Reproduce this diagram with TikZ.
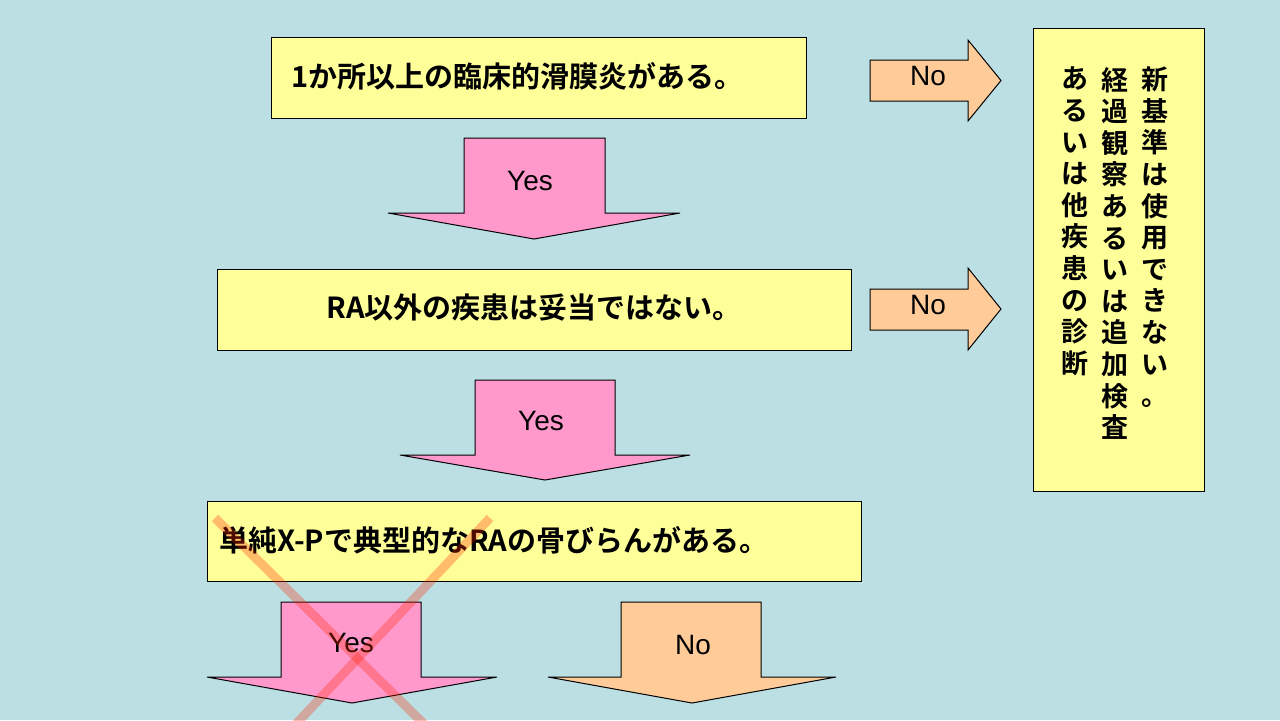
\documentclass[tikz,border=0pt]{standalone}
\usepackage{fontspec}
\setmainfont{Liberation Sans}
\newfontfamily\jp{Noto Sans CJK JP}[BoldFont={Noto Sans CJK JP Bold}]
\definecolor{bgblue}{RGB}{188,223,228}
\definecolor{boxyellow}{RGB}{255,255,153}
\definecolor{arrpink}{RGB}{255,153,204}
\definecolor{arrorange}{RGB}{255,204,153}
\tikzset{
  cond/.style={draw=black, fill=boxyellow, line width=0.5pt},
  condtext/.style={font=\jp\bfseries\fontsize{14.5}{16}\selectfont, anchor=west},
  lbl/.style={font=\fontsize{14}{16}\selectfont},
}
% down arrow: shaft left x, shaft right x, top y, shoulder y, head left x, head right x, tip y
\newcommand{\downarr}[8]{%
  \draw[fill=#8, line width=0.5pt] (#1,#3) -- (#2,#3) -- (#2,#4) -- (#6,#4)
    -- ({(#5+#6)/2},#7) -- (#5,#4) -- (#1,#4) -- cycle;}
% right arrow: shaft left x, head x, tip x, shaft top, shaft bottom, head top, head bottom
\newcommand{\rightarr}[7]{%
  \draw[fill=arrorange, line width=0.5pt] (#1,#4) -- (#2,#4) -- (#2,#6)
    -- (#3,{(#6+#7)/2}) -- (#2,#7) -- (#2,#5) -- (#1,#5) -- cycle;}
\begin{document}
\begin{tikzpicture}[x=0.5pt, y=-0.5pt]
	\fill[bgblue] (0,0) rectangle (1280,720);
	\useasboundingbox (0,0) rectangle (1280,720);
	
	% conditions
	\draw[cond] (271,37) rectangle (806,118);
	\node[condtext] (c1) at (284,76) {1か所以上の臨床的滑膜炎がある。};
	\draw[cond] (217,269) rectangle (851,350);
	\node[condtext, anchor=center] (c2) at (534,308) {RA以外の疾患は妥当ではない。};
	\draw[cond] (207,501) rectangle (861,581);
	\node[condtext] (c3) at (212,540) {単純X-Pで典型的なRAの骨びらんがある。};
	
	% result box
	\draw[cond] (1033,28) rectangle (1204,491);
	\node[font=\jp\bfseries\fontsize{13.5}{15.8}\selectfont, align=center, anchor=north] (r1) at (1155,60)
		{新\\基\\準\\は\\使\\用\\で\\き\\な\\い\\。};
	\node[font=\jp\bfseries\fontsize{13.5}{15.8}\selectfont, align=center, anchor=north] (r2) at (1115,60)
		{経\\過\\観\\察\\あ\\る\\い\\は\\追\\加\\検\\査};
	\node[font=\jp\bfseries\fontsize{13.5}{15.8}\selectfont, align=center, anchor=north] (r3) at (1075,60)
		{あ\\る\\い\\は\\他\\疾\\患\\の\\診\\断};
	
	% yes / no arrows
	\downarr{464}{605}{138}{213}{388}{680}{239}{arrpink}
	\node[lbl] (y1) at (530,181) {Yes};
	\downarr{475}{615}{380}{455}{400}{690}{480}{arrpink}
	\node[lbl] (y2) at (541,421) {Yes};
	\downarr{281}{421}{602}{677}{207}{497}{703}{arrpink}
	\node[lbl] (y3) at (351,643) {Yes};
	\downarr{621}{761}{602}{677}{548}{836}{703}{arrorange}
	\node[lbl] (n3) at (693,645) {No};
	\rightarr{870}{968}{1001}{60}{101}{40}{121}
	\node[lbl] (n1) at (928,76) {No};
	\rightarr{870}{968}{1001}{289}{330}{268}{350}
	\node[lbl] (n2) at (928,305) {No};
	
	% crossed out
	\draw[red!70!orange, opacity=0.3, line width=4.5pt] (215,518) -- (425,725);
	\draw[red!70!orange, opacity=0.3, line width=4.5pt] (490,518) -- (295,725);
\end{tikzpicture}
\end{document}
